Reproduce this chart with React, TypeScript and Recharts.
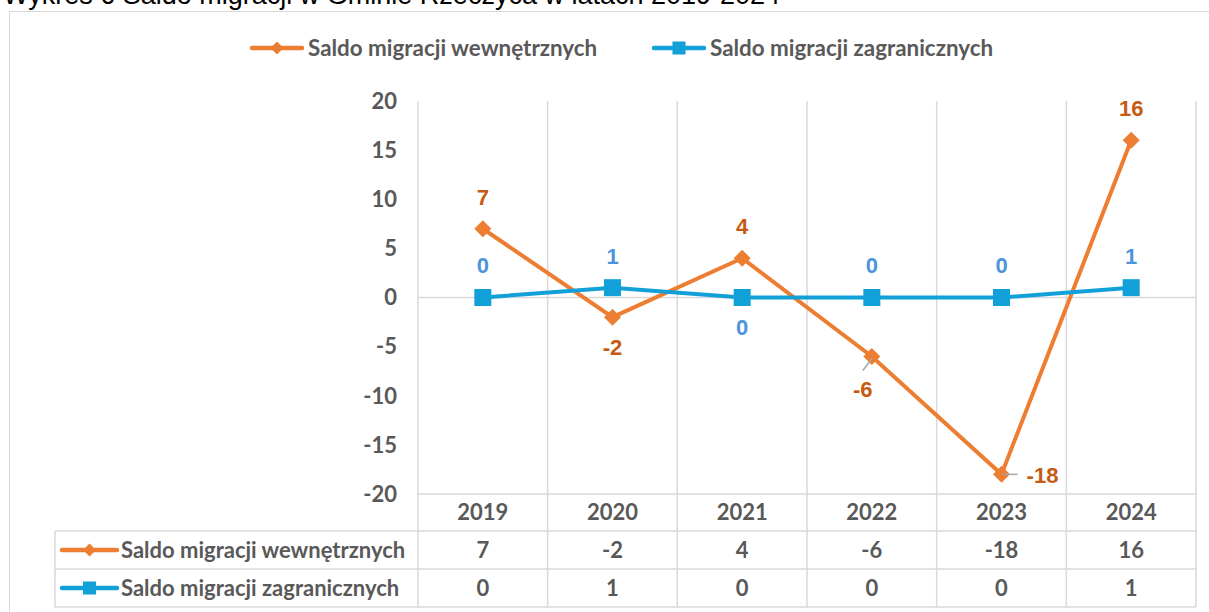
import { LineChart, Line, XAxis, YAxis, CartesianGrid, Legend, LabelList } from 'recharts'

const YEARS = ['2019', '2020', '2021', '2022', '2023', '2024']
const WEWNETRZNE = [7, -2, 4, -6, -18, 16]
const ZAGRANICZNE = [0, 1, 0, 0, 0, 1]
const Y_TICKS = [-20, -15, -10, -5, 0, 5, 10, 15, 20]

const NAME_WEW = 'Saldo migracji wewnętrznych'
const NAME_ZAG = 'Saldo migracji zagranicznych'
const TITLE = 'Wykres 6 Saldo migracji w Gminie Rzeczyca w latach 2019-2024'

// where each data label sits relative to its point
const WEW_LABEL_POS = ['top', 'bottom', 'top', 'bottomLeft', 'right', 'top']
const ZAG_LABEL_POS = ['top', 'top', 'bottom', 'top', 'top', 'top']

const CHART_DATA = YEARS.map((year, i) => ({ year, wew: WEWNETRZNE[i], zag: ZAGRANICZNE[i] }))

const W = 1209
const H = 612
const PLOT_LEFT = 418
const PLOT_RIGHT = 1196
const PLOT_TOP = 101
const ROWS = [494, 531, 569, 607]
const LABEL_LEFT = 55
const BAND = (PLOT_RIGHT - PLOT_LEFT) / YEARS.length

const ORANGE = '#ED7D31'
const ORANGE_TEXT = '#C55A11'
const BLUE = '#12A0D9'
const BLUE_TEXT = '#4E94DA'
const GRID = '#D9D9D9'
const TEXT = '#595959'
const FONT = 'Lato, sans-serif'
const LABEL_FONT = '"Liberation Sans", Arial, sans-serif'

const Diamond = ({ cx, cy, r }: { cx: number; cy: number; r: number }) => (
  <polygon points={`${cx},${cy - r} ${cx + r},${cy} ${cx},${cy + r} ${cx - r},${cy}`} fill={ORANGE} />
)
const Square = ({ cx, cy, s }: { cx: number; cy: number; s: number }) => (
  <rect x={cx - s / 2} y={cy - s / 2} width={s} height={s} fill={BLUE} />
)

const DiamondDot = (p: any) => <Diamond key={p.index} cx={p.cx} cy={p.cy} r={8.5} />
const SquareDot = (p: any) => <Square key={p.index} cx={p.cx} cy={p.cy} s={17} />

const SeriesMarker = ({ kind, width }: { kind: 'wew' | 'zag'; width: number }) => {
  const color = kind === 'wew' ? ORANGE : BLUE
  return (
    <svg width={width} height={20} style={{ display: 'block' }}>
      <line x1={2} x2={width - 2} y1={10} y2={10} stroke={color} strokeWidth={4.5} strokeLinecap="round" />
      {kind === 'wew' ? <Diamond cx={width / 2} cy={10} r={6.5} /> : <Square cx={width / 2} cy={10} s={13} />}
    </svg>
  )
}

const makeLabel = (positions: string[], color: string) => (p: any) => {
  const { x, y, value, index } = p
  const pos = positions[index]
  const style = { fontFamily: LABEL_FONT, fontWeight: 700, fontSize: 22, fill: color }
  if (pos === 'bottomLeft') {
    return (
      <g key={index}>
        <line x1={x} y1={y + 2} x2={x - 9} y2={y + 14} stroke="#A6A6A6" strokeWidth={1.5} />
        <text x={x - 9} y={y + 33} dy="0.36em" textAnchor="middle" {...style}>{value}</text>
      </g>
    )
  }
  if (pos === 'right') {
    return (
      <g key={index}>
        <line x1={x + 1} y1={y} x2={x + 16} y2={y} stroke="#A6A6A6" strokeWidth={1.5} />
        <text x={x + 41} y={y + 1} dy="0.36em" textAnchor="middle" {...style}>{value}</text>
      </g>
    )
  }
  const cy = pos === 'top' ? y - 32 : y + 30
  return (
    <text key={index} x={x} y={cy} dy="0.36em" textAnchor="middle" {...style}>{value}</text>
  )
}

const cellText = { fontFamily: FONT, fontWeight: 700, fontSize: 22, fill: TEXT }
const rowMid = (r: number) => (ROWS[r] + ROWS[r + 1]) / 2

// the x axis carries the data table underneath the plot
const TableTick = (props: any) => {
  const { x, payload } = props
  const i = payload.index
  const half = BAND / 2
  const last = i === YEARS.length - 1
  return (
    <g>
      <line x1={x - half} x2={x - half} y1={ROWS[0]} y2={ROWS[3]} stroke={GRID} strokeWidth={1.5} />
      {last && <line x1={x + half} x2={x + half} y1={ROWS[0]} y2={ROWS[3]} stroke={GRID} strokeWidth={1.5} />}
      <text x={x} y={rowMid(0)} dy="0.36em" textAnchor="middle" {...cellText}>{payload.value}</text>
      <text x={x} y={rowMid(1)} dy="0.36em" textAnchor="middle" {...cellText}>{WEWNETRZNE[i]}</text>
      <text x={x} y={rowMid(2)} dy="0.36em" textAnchor="middle" {...cellText}>{ZAGRANICZNE[i]}</text>
      {i === 0 && (
        <g>
          <line x1={PLOT_LEFT} x2={PLOT_RIGHT} y1={ROWS[0]} y2={ROWS[0]} stroke={GRID} strokeWidth={1.5} />
          {[1, 2, 3].map((r) => (
            <line key={r} x1={LABEL_LEFT} x2={PLOT_RIGHT} y1={ROWS[r]} y2={ROWS[r]} stroke={GRID} strokeWidth={1.5} />
          ))}
          <line x1={LABEL_LEFT} x2={LABEL_LEFT} y1={ROWS[1]} y2={ROWS[3]} stroke={GRID} strokeWidth={1.5} />
          <line x1={62} x2={117} y1={rowMid(1)} y2={rowMid(1)} stroke={ORANGE} strokeWidth={4.5} strokeLinecap="round" />
          <Diamond cx={89.5} cy={rowMid(1)} r={6.5} />
          <text x={121} y={rowMid(1)} dy="0.36em" {...cellText}>{NAME_WEW}</text>
          <line x1={62} x2={117} y1={rowMid(2)} y2={rowMid(2)} stroke={BLUE} strokeWidth={4.5} strokeLinecap="round" />
          <Square cx={89.5} cy={rowMid(2)} s={13} />
          <text x={121} y={rowMid(2)} dy="0.36em" {...cellText}>{NAME_ZAG}</text>
        </g>
      )}
    </g>
  )
}

const TopLegend = (props: any) => {
  const items = props.payload || []
  const lefts = [250, 652]
  return (
    <div style={{ position: 'relative', height: 24, width: W }}>
      {items.map((it: any, i: number) => (
        <div
          key={it.value}
          style={{ position: 'absolute', left: lefts[i], top: 0, display: 'flex', alignItems: 'center', height: 24 }}
        >
          <SeriesMarker kind={it.dataKey === 'wew' ? 'wew' : 'zag'} width={54} />
          <span style={{ marginLeft: 4, fontFamily: FONT, fontWeight: 700, fontSize: 22.4, color: TEXT, lineHeight: '24px' }}>
            {it.value}
          </span>
        </div>
      ))}
    </div>
  )
}

export default function App() {
  return (
    <div style={{ position: 'absolute', left: 0, top: 0, width: W, height: H, overflow: 'hidden', background: '#fff' }}>
      <div
        style={{
          position: 'absolute',
          left: 3,
          top: -18,
          fontFamily: LABEL_FONT,
          fontSize: 27,
          lineHeight: '27px',
          color: '#000',
          whiteSpace: 'nowrap',
        }}
      >
        {TITLE}
      </div>
      <div style={{ position: 'absolute', left: 9, top: 11, width: 1400, height: 800, border: `1px solid ${GRID}` }} />
      <div style={{ position: 'absolute', left: 0, top: 0 }}>
        <LineChart
          width={W}
          height={H}
          data={CHART_DATA}
          margin={{ top: PLOT_TOP, right: W - PLOT_RIGHT, bottom: H - ROWS[3], left: PLOT_LEFT - 60 }}
        >
          <CartesianGrid
            stroke={GRID}
            strokeWidth={1.5}
            verticalCoordinatesGenerator={({ offset }: any) =>
              YEARS.map((_, i) => offset.left + (offset.width * i) / YEARS.length).concat(offset.left + offset.width)
            }
            horizontalCoordinatesGenerator={({ yAxis, offset }: any) =>
              [yAxis && typeof yAxis.scale === 'function' ? yAxis.scale(0) : offset.top + offset.height / 2]
            }
          />
          <XAxis
            dataKey="year"
            axisLine={false}
            tickLine={false}
            height={ROWS[3] - ROWS[0]}
            padding={{ left: BAND / 2, right: BAND / 2 }}
            tick={<TableTick />}
            interval={0}
          />
          <YAxis
            domain={[-20, 20]}
            ticks={Y_TICKS}
            width={60}
            axisLine={false}
            tickLine={false}
            tickSize={0}
            tickMargin={21}
            tick={{ fill: TEXT, fontSize: 22, fontFamily: FONT, fontWeight: 700 }}
          />
          <Legend
            layout="horizontal"
            verticalAlign="middle"
            align="center"
            wrapperStyle={{ top: 36, left: 0, width: W }}
            content={<TopLegend />}
          />
          <Line
            dataKey="wew"
            name={NAME_WEW}
            type="linear"
            stroke={ORANGE}
            strokeWidth={4}
            dot={DiamondDot}
            activeDot={false}
            isAnimationActive={false}
          >
            <LabelList dataKey="wew" content={makeLabel(WEW_LABEL_POS, ORANGE_TEXT)} />
          </Line>
          <Line
            dataKey="zag"
            name={NAME_ZAG}
            type="linear"
            stroke={BLUE}
            strokeWidth={4}
            dot={SquareDot}
            activeDot={false}
            isAnimationActive={false}
          >
            <LabelList dataKey="zag" content={makeLabel(ZAG_LABEL_POS, BLUE_TEXT)} />
          </Line>
        </LineChart>
      </div>
    </div>
  )
}
